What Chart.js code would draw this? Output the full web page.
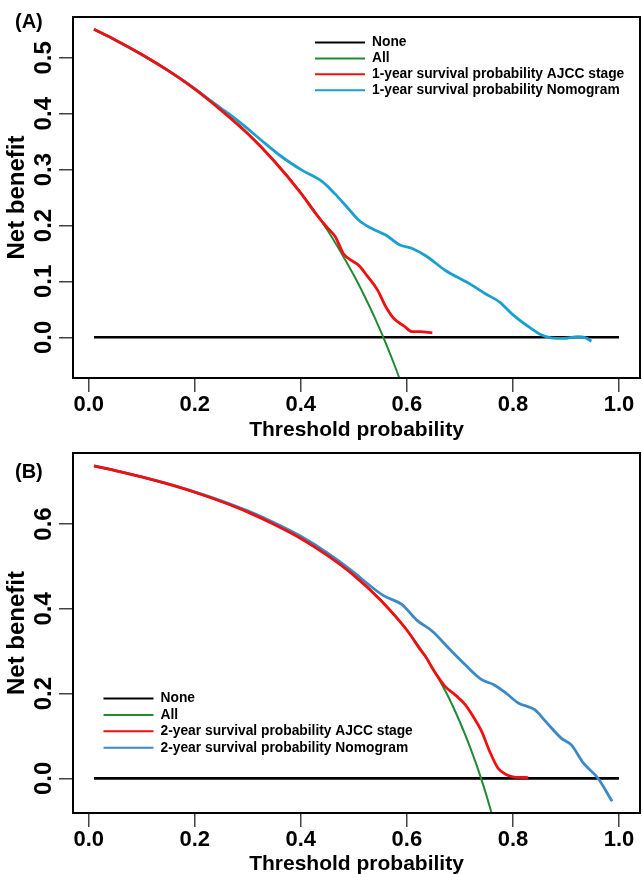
<!DOCTYPE html>
<html>
<head>
<meta charset="utf-8">
<script src="https://cdn.jsdelivr.net/npm/chart.js@4.4.1/dist/chart.umd.min.js"></script>
<style>
  html, body { margin: 0; padding: 0; background: #fff; overflow: hidden; }
  #wrap { position: relative; width: 642px; height: 874px; }
  canvas { position: absolute; left: 0; }
  #chartA { top: 0; }
  #chartB { top: 440px; }
</style>
</head>
<body>
<div id="wrap">
  <canvas id="chartA" width="642" height="452"></canvas>
  <canvas id="chartB" width="642" height="446"></canvas>
</div>
<script>
// ---- shared ----
const xTicks = [0, 0.2, 0.4, 0.6, 0.8, 1.0];
const thrNone = [0.01, 1.0];
const netNone = [0, 0];

// ---- panel A: 1-year ----
const yTicksA = [0.0, 0.1, 0.2, 0.3, 0.4, 0.5];
const thrAllA = [0.01, 0.05, 0.10, 0.15, 0.20, 0.25, 0.30, 0.35, 0.40, 0.45, 0.50, 0.52, 0.54, 0.56, 0.58, 0.60];
const netAllA = [0.551, 0.532, 0.506, 0.477, 0.445, 0.407, 0.365, 0.316, 0.259, 0.192, 0.111, 0.074, 0.034, -0.010, -0.058, -0.111];
const thrAjccA = [0.01, 0.05, 0.10, 0.15, 0.20, 0.25, 0.30, 0.35, 0.40, 0.43, 0.45, 0.465, 0.48, 0.49, 0.51, 0.525, 0.545, 0.56, 0.575, 0.595, 0.61, 0.625, 0.648];
const netAjccA = [0.551, 0.532, 0.506, 0.477, 0.444, 0.406, 0.364, 0.315, 0.258, 0.219, 0.196, 0.180, 0.150, 0.141, 0.128, 0.110, 0.084, 0.055, 0.034, 0.020, 0.010, 0.010, 0.008];
const thrNomoA = [0.01, 0.05, 0.10, 0.15, 0.20, 0.233, 0.264, 0.295, 0.325, 0.364, 0.402, 0.441, 0.464, 0.487, 0.51, 0.533, 0.56, 0.587, 0.61, 0.637, 0.672, 0.718, 0.748, 0.775, 0.798, 0.825, 0.852, 0.872, 0.895, 0.922, 0.937, 0.948];
const netNomoA = [0.551, 0.532, 0.506, 0.477, 0.445, 0.421, 0.400, 0.377, 0.353, 0.323, 0.299, 0.278, 0.257, 0.233, 0.209, 0.195, 0.183, 0.165, 0.159, 0.145, 0.120, 0.096, 0.078, 0.063, 0.042, 0.022, 0.005, -0.001, -0.002, 0.001, -0.001, -0.007];

// ---- panel B: 2-year ----
const yTicksB = [0.0, 0.2, 0.4, 0.6];
const thrAllB = [0.01, 0.05, 0.10, 0.15, 0.20, 0.25, 0.30, 0.35, 0.40, 0.45, 0.50, 0.55, 0.60, 0.62, 0.64, 0.66, 0.68, 0.70, 0.72, 0.74, 0.76, 0.78];
const netAllB = [0.737, 0.726, 0.711, 0.694, 0.675, 0.653, 0.629, 0.600, 0.567, 0.527, 0.480, 0.422, 0.350, 0.316, 0.278, 0.235, 0.188, 0.133, 0.071, 0.000, -0.083, -0.182];
const thrAjccB = [0.01, 0.05, 0.10, 0.15, 0.20, 0.25, 0.30, 0.35, 0.40, 0.45, 0.50, 0.55, 0.60, 0.625, 0.637, 0.648, 0.66, 0.672, 0.691, 0.71, 0.725, 0.741, 0.756, 0.772, 0.787, 0.802, 0.829];
const netAjccB = [0.737, 0.726, 0.711, 0.694, 0.675, 0.653, 0.628, 0.599, 0.566, 0.526, 0.479, 0.421, 0.350, 0.304, 0.284, 0.260, 0.237, 0.217, 0.197, 0.174, 0.146, 0.111, 0.064, 0.024, 0.009, 0.003, 0.002];
const thrNomoB = [0.01, 0.05, 0.10, 0.15, 0.20, 0.25, 0.30, 0.35, 0.40, 0.45, 0.50, 0.525, 0.556, 0.591, 0.618, 0.648, 0.679, 0.71, 0.741, 0.764, 0.787, 0.81, 0.841, 0.864, 0.891, 0.91, 0.933, 0.96, 0.987];
const netNomoB = [0.737, 0.726, 0.711, 0.695, 0.676, 0.655, 0.631, 0.603, 0.571, 0.532, 0.486, 0.460, 0.431, 0.410, 0.374, 0.347, 0.307, 0.268, 0.233, 0.221, 0.201, 0.178, 0.162, 0.131, 0.095, 0.079, 0.036, 0.001, -0.054];

const FONT = "'Liberation Sans', Arial, sans-serif";

function pts(xs, ys) {
  return xs.map((x, i) => ({ x: x, y: ys[i] }));
}

function line(label, xs, ys, color, width, order) {
  return {
    label: label,
    data: pts(xs, ys),
    borderColor: color,
    borderWidth: width,
    pointRadius: 0,
    cubicInterpolationMode: 'monotone',
    clip: 0,
    order: order
  };
}

// frame, panel tag and legend
const decor = {
  id: 'decor',
  afterDatasetsDraw(chart) {
    const { ctx, chartArea: a } = chart;
    ctx.save();
    ctx.strokeStyle = '#000';
    ctx.lineWidth = 2;
    ctx.strokeRect(a.left, a.top, a.right - a.left, a.bottom - a.top);
    ctx.restore();
  },
  afterDraw(chart, args, o) {
    const ctx = chart.ctx;
    ctx.save();
    ctx.fillStyle = '#000';
    ctx.textBaseline = 'middle';
    ctx.font = 'bold 20px ' + FONT;
    ctx.fillText(o.tag, o.tagX, o.tagY);
    ctx.font = 'bold 13.8px ' + FONT;
    chart.data.datasets.forEach((ds, i) => {
      const y = o.legY + i * o.legStep;
      ctx.strokeStyle = ds.borderColor;
      ctx.lineWidth = 2;
      ctx.beginPath();
      ctx.moveTo(o.legX, y);
      ctx.lineTo(o.legX + 50, y);
      ctx.stroke();
      ctx.fillText(ds.label, o.legX + 57, y);
    });
    ctx.restore();
  }
};

function makeChart(id, p) {
  return new Chart(document.getElementById(id), {
    type: 'line',
    data: { datasets: p.datasets },
    plugins: [decor],
    options: {
      responsive: false,
      animation: false,
      events: [],
      layout: { padding: { top: p.top, right: 2, left: 0, bottom: 0 } },
      plugins: {
        legend: { display: false },
        tooltip: { enabled: false },
        decor: p.decor
      },
      scales: {
        x: {
          type: 'linear',
          min: -0.0296,
          max: 1.0396,
          afterBuildTicks: s => { s.ticks = xTicks.map(v => ({ value: v })); },
          afterFit: s => { s.height = p.xAxisH; s.paddingLeft = 0; s.paddingRight = 0; },
          border: { display: false },
          grid: { drawOnChartArea: false, drawTicks: true, tickLength: 14, color: '#444', lineWidth: 1.5 },
          ticks: {
            autoSkip: false, maxRotation: 0, minRotation: 0, padding: 0, color: '#000',
            font: { family: FONT, size: 22, weight: 'bold' },
            callback: v => v.toFixed(1)
          },
          title: {
            display: true, text: 'Threshold probability', color: '#000',
            font: { family: FONT, size: 21, weight: 'bold' },
            padding: { top: 0, bottom: p.xTitlePad }
          }
        },
        y: {
          type: 'linear',
          min: p.yMin,
          max: p.yMax,
          afterBuildTicks: s => { s.ticks = p.yTicks.map(v => ({ value: v })); },
          afterFit: s => { s.width = 73; s.paddingTop = 0; s.paddingBottom = 0; },
          border: { display: false },
          grid: { drawOnChartArea: false, drawTicks: true, tickLength: 14, color: '#444', lineWidth: 1.5 },
          ticks: {
            minRotation: 90, maxRotation: 90, crossAlign: 'center', padding: -2, color: '#000',
            font: { family: FONT, size: 24, weight: 'bold' },
            callback: v => v.toFixed(1)
          },
          title: {
            display: true, text: 'Net benefit', color: '#000',
            font: { family: FONT, size: 24, weight: 'bold' },
            padding: { top: 3, bottom: 0 }
          }
        }
      }
    }
  });
}

makeChart('chartA', {
  top: 17, xAxisH: 74, xTitlePad: 9,
  yMin: -0.0728, yMax: 0.573, yTicks: yTicksA,
  datasets: [
    line('None', thrNone, netNone, '#000000', 2.6, 4),
    line('All', thrAllA, netAllA, '#218b34', 2, 3),
    line('1-year survival probability AJCC stage', thrAjccA, netAjccA, '#f01010', 2.8, 1),
    line('1-year survival probability Nomogram', thrNomoA, netNomoA, '#1a9fcf', 2.8, 2)
  ],
  decor: { tag: '(A)', tagX: 15, tagY: 22.5, legX: 315, legY: 42.5, legStep: 15.9 }
});

makeChart('chartB', {
  top: 13, xAxisH: 73, xTitlePad: 9,
  yMin: -0.0816, yMax: 0.7675, yTicks: yTicksB,
  datasets: [
    line('None', thrNone, netNone, '#000000', 2.6, 4),
    line('All', thrAllB, netAllB, '#218b34', 2, 3),
    line('2-year survival probability AJCC stage', thrAjccB, netAjccB, '#f01010', 2.8, 1),
    line('2-year survival probability Nomogram', thrNomoB, netNomoB, '#3d89c5', 2.8, 2)
  ],
  decor: { tag: '(B)', tagX: 15, tagY: 32.5, legX: 103.5, legY: 258.5, legStep: 16.4 }
});
</script>
</body>
</html>
